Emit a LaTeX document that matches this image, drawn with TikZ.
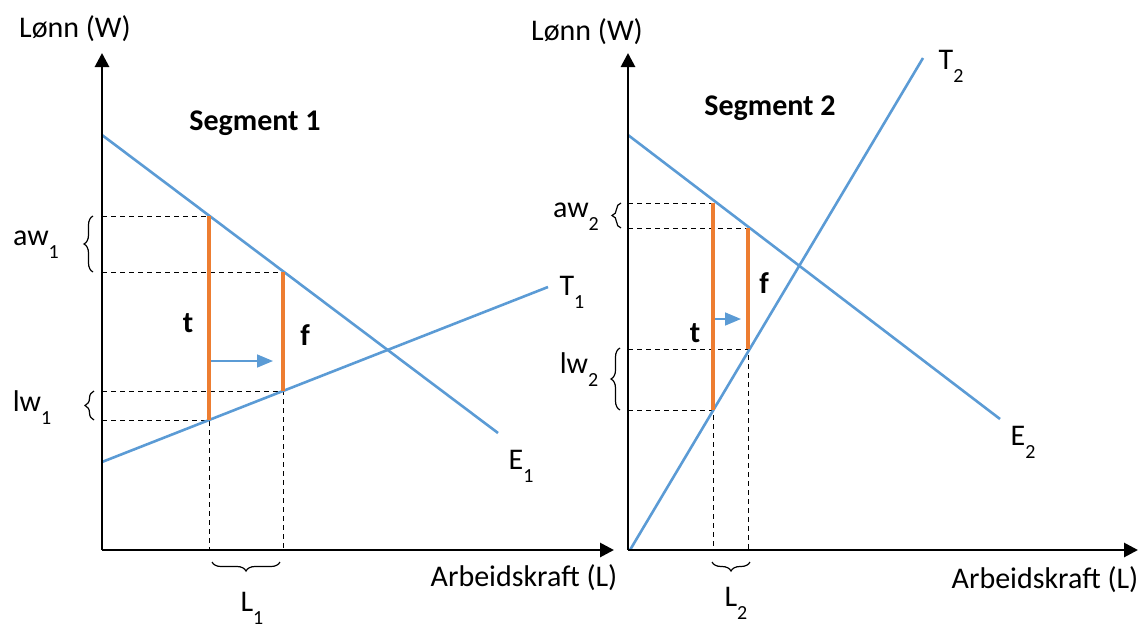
\documentclass[tikz,border=0pt]{standalone}
\usepackage{fontspec}
\setmainfont{Carlito}
\usetikzlibrary{arrows.meta,decorations.pathreplacing,calc}
\definecolor{curveblue}{HTML}{5B9BD5}
\definecolor{gaporange}{HTML}{ED7D31}
\newcommand{\lowsub}[1]{\raisebox{-0.9ex}{\fontsize{10}{12}\selectfont #1}}
\tikzset{
  axis/.style={-{Triangle[length=7pt,width=7pt]}, line width=1.4pt, black},
  curve/.style={line width=1.3pt, curveblue},
  gap/.style={line width=2.1pt, gaporange},
  guide/.style={line width=0.5pt, dash pattern=on 2.5pt off 2pt},
  pusharrow/.style={-{Triangle[length=8pt,width=6.5pt]}, line width=0.8pt, curveblue},
  bracket/.style={decorate, decoration={brace, amplitude=4.5pt}, line width=0.6pt},
  txt/.style={inner sep=0pt, font=\fontsize{15}{18}\selectfont},
  heading/.style={txt, font=\fontsize{15}{18}\selectfont\bfseries}
}
\begin{document}
\begin{tikzpicture}[x=0.5pt,y=-0.5pt]
  \useasboundingbox (0,0) rectangle (1140,632);
  % segment 1
  \coordinate (O1) at (102,550);
  \coordinate (Y1) at (102,53);
  \coordinate (X1) at (614,550);
  \coordinate (E1s) at (102,135);
  \coordinate (E1e) at (498,433);
  \coordinate (T1s) at (102,462);
  \coordinate (T1e) at (548,287);
  \coordinate (A1) at (209,216);
  \coordinate (B1) at (209,420);
  \coordinate (C1) at (283,272);
  \coordinate (D1) at (283,391);
  \draw[guide] (O1 |- A1) -- (A1);
  \draw[guide] (O1 |- C1) -- (C1);
  \draw[guide] (O1 |- D1) -- (D1) -- (D1 |- O1);
  \draw[guide] (O1 |- B1) -- (B1) -- (B1 |- O1);
  \draw[curve] (E1s) -- (E1e);
  \draw[curve] (T1s) -- (T1e);
  \draw[gap] (A1) -- (B1);
  \draw[gap] (C1) -- (D1);
  \draw[pusharrow] (211,361) -- (273,361);
  \draw[axis] (O1) -- (Y1);
  \draw[axis] (O1) -- (X1);
  \draw[bracket] (93,272) -- (93,216);
  \draw[bracket] (94,420) -- (94,391);
  \draw[bracket] (280,562) -- (212,562);
  \node[txt] (w1) at (75,29) {Lønn (W)};
  \node[heading] (s1) at (255,123) {Segment 1};
  \node[txt] (aw1) at (36,245) {aw\lowsub{1}};
  \node[txt] (lw1) at (32,408) {lw\lowsub{1}};
  \node[heading] (t1) at (188,323) {t};
  \node[heading] (f1) at (305,335) {f};
  \node[txt] (e1) at (521,466) {E\lowsub{1}};
  \node[txt] (tt1) at (572,292) {T\lowsub{1}};
  \node[txt] (l1) at (252,608) {L\lowsub{1}};
  \node[txt] (x1) at (524,578) {Arbeidskraft (L)};
  % segment 2
  \coordinate (O2) at (628,550);
  \coordinate (Y2) at (628,53);
  \coordinate (X2) at (1138,550);
  \coordinate (E2s) at (628,135);
  \coordinate (E2e) at (1000,419);
  \coordinate (T2s) at (630,550);
  \coordinate (T2e) at (923,58);
  \coordinate (A2) at (713,203);
  \coordinate (B2) at (713,410);
  \coordinate (C2) at (748,228);
  \coordinate (D2) at (748,349);
  \draw[guide] (O2 |- A2) -- (A2);
  \draw[guide] (O2 |- C2) -- (C2);
  \draw[guide] (O2 |- D2) -- (D2) -- (D2 |- O2);
  \draw[guide] (O2 |- B2) -- (B2) -- (B2 |- O2);
  \draw[curve] (E2s) -- (E2e);
  \draw[curve] (T2s) -- (T2e);
  \draw[gap] (A2) -- (B2);
  \draw[gap] (C2) -- (D2);
  \draw[pusharrow] (715,319) -- (741,319);
  \draw[axis] (O2) -- (Y2);
  \draw[axis] (O2) -- (X2);
  \draw[bracket] (621,228) -- (621,203);
  \draw[bracket] (620,410) -- (620,348);
  \draw[bracket] (750,562) -- (712,562);
  \node[txt] (w2) at (587,32) {Lønn (W)};
  \node[heading] (s2) at (770,108) {Segment 2};
  \node[txt] (aw2) at (576,217) {aw\lowsub{2}};
  \node[txt] (lw2) at (579,370) {lw\lowsub{2}};
  \node[heading] (t2) at (695,333) {t};
  \node[heading] (f2) at (764,283) {f};
  \node[txt] (e2) at (1023,442) {E\lowsub{2}};
  \node[txt] (tt2) at (951,66) {T\lowsub{2}};
  \node[txt] (l2) at (736,603) {L\lowsub{2}};
  \node[txt] (x2) at (1045,580) {Arbeidskraft (L)};
\end{tikzpicture}
\end{document}
